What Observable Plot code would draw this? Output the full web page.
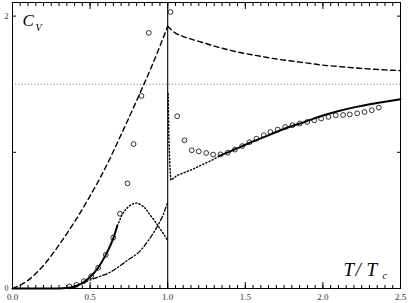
<!DOCTYPE html>
<html><head><meta charset="utf-8">
<script src="https://cdn.jsdelivr.net/npm/d3@7"></script>
<script src="https://cdn.jsdelivr.net/npm/@observablehq/plot@0.6"></script>
<style>body{margin:0;background:#fff} svg{display:block}</style>
</head><body><div id="chart"></div>
<script>
// ideal Bose gas (dashed)
const dashBelowT = [0, 0.1, 0.2, 0.3, 0.4, 0.5, 0.6, 0.7, 0.8, 0.9, 1.0];
const dashBelowC = [0, 0.06, 0.17, 0.32, 0.49, 0.68, 0.89, 1.13, 1.38, 1.64, 1.925];
const dashAboveT = [1.0, 1.05, 1.1, 1.2, 1.3, 1.4, 1.5, 1.6, 1.7, 1.8, 1.9, 2.0, 2.1, 2.2, 2.3, 2.4, 2.5];
const dashAboveC = [1.925, 1.875, 1.85, 1.815, 1.78, 1.75, 1.725, 1.705, 1.685, 1.67, 1.655, 1.64, 1.63, 1.62, 1.612, 1.605, 1.6];
// solid curves
const solidLowT = [0, 0.3, 0.35, 0.4, 0.45, 0.5, 0.55, 0.6, 0.65, 0.675];
const solidLowC = [0, 0, 0.003, 0.015, 0.04, 0.085, 0.15, 0.245, 0.37, 0.46];
const solidHighT = [1.33, 1.4, 1.47, 1.55, 1.66, 1.77, 1.88, 2.0, 2.09, 2.2, 2.31, 2.4, 2.5];
const solidHighC = [0.972, 1.005, 1.04, 1.08, 1.13, 1.18, 1.222, 1.27, 1.3, 1.33, 1.355, 1.372, 1.39];
// dotted curves
const dotLowT = [0.675, 0.69, 0.71, 0.73, 0.76, 0.8, 0.85, 0.88, 0.92, 0.95, 0.98, 1.0];
const dotLowC = [0.46, 0.5, 0.55, 0.58, 0.612, 0.627, 0.595, 0.55, 0.49, 0.44, 0.39, 0.35];
const dotHighT = [1.003, 1.008, 1.014, 1.02, 1.06, 1.15, 1.28, 1.34];
const dotHighC = [1.43, 1.1, 0.9, 0.795, 0.83, 0.87, 0.94, 0.975];
// dash-dot curve
const dashDotT = [0.4, 0.44, 0.52, 0.63, 0.74, 0.825, 0.88, 0.93, 0.97, 1.0];
const dashDotC = [0.01, 0.035, 0.071, 0.12, 0.206, 0.279, 0.36, 0.45, 0.54, 0.635];
// measured points (circles)
const circT = [0.367, 0.412, 0.46, 0.507, 0.552, 0.601, 0.649, 0.692, 0.741, 0.78, 0.831, 0.878, 1.018, 1.061, 1.108, 1.155, 1.2, 1.248, 1.293, 1.34, 1.387, 1.433, 1.48, 1.527, 1.572, 1.619, 1.662, 1.709, 1.757, 1.804, 1.851, 1.899, 1.944, 1.989, 2.036, 2.083, 2.13, 2.173, 2.221, 2.268, 2.315, 2.36];
const circC = [0.015, 0.027, 0.054, 0.09, 0.152, 0.247, 0.373, 0.549, 0.772, 1.06, 1.414, 1.877, 2.03, 1.265, 1.088, 1.015, 1.007, 0.995, 0.983, 0.985, 0.997, 1.02, 1.046, 1.074, 1.1, 1.125, 1.149, 1.167, 1.186, 1.199, 1.211, 1.223, 1.235, 1.248, 1.26, 1.272, 1.274, 1.278, 1.286, 1.296, 1.309, 1.328];
// reference levels and ticks
const classicalLimit = [1.5];
const criticalT = [1.0];
const xMajorTicks = [0, 0.5, 1.0, 1.5, 2.0, 2.5];
const xMinorTicks = d3.range(0, 51).map(i => i * 0.05);
const yTicks = [0, 1, 2];
const yTickLabels = [0, 2];

const zip = (xs, ys) => xs.map((x, i) => ({x, y: ys[i]}));
const lineOpts = {x: "x", y: "y", stroke: "black"};
const label = (t, anchor, dx, dy, size) => Plot.text([t], {frameAnchor: anchor, text: d => d, dx, dy, lineAnchor: "bottom", textAnchor: "start", fontSize: size, fontStyle: "italic"});

const chart = Plot.plot({
  width: 409, height: 303,
  marginLeft: 12, marginRight: 9, marginTop: 2, marginBottom: 15,
  x: {domain: [0, 2.5], axis: null},
  y: {domain: [0, 2.1], axis: null},
  style: {fontFamily: "'Liberation Serif', 'DejaVu Serif', serif", background: "white", color: "black"},
  marks: [
    Plot.ruleY(classicalLimit, {stroke: "#444", strokeWidth: 0.8, strokeDasharray: "1,2.2"}),
    Plot.ruleX(criticalT, {stroke: "black", strokeWidth: 1.1}),
    Plot.line(zip(dashBelowT, dashBelowC), {...lineOpts, strokeWidth: 1.4, strokeDasharray: "5,3.5", curve: "monotone-x"}),
    Plot.line(zip(dashAboveT, dashAboveC), {...lineOpts, strokeWidth: 1.4, strokeDasharray: "5,3.5", curve: "monotone-x"}),
    Plot.line(zip(dotLowT, dotLowC), {...lineOpts, strokeWidth: 1.4, strokeDasharray: "1.2,2.2", curve: "catmull-rom"}),
    Plot.line(zip(dotHighT, dotHighC), {...lineOpts, strokeWidth: 1.4, strokeDasharray: "1.2,2.2"}),
    Plot.line(zip(dashDotT, dashDotC), {...lineOpts, strokeWidth: 1.3, strokeDasharray: "4.5,2.2,1.3,2.2", curve: "monotone-x"}),
    Plot.line(zip(solidLowT, solidLowC), {...lineOpts, strokeWidth: 2, curve: "monotone-x"}),
    Plot.line(zip(solidHighT, solidHighC), {...lineOpts, strokeWidth: 2, curve: "monotone-x"}),
    Plot.dot(zip(circT, circC), {x: "x", y: "y", r: 2.4, stroke: "black", strokeWidth: 0.8, fill: "none"}),
    Plot.frame({stroke: "black", strokeWidth: 1}),
    Plot.axisX(xMinorTicks, {anchor: "bottom", tickSize: -3, tickFormat: () => "", label: null}),
    Plot.axisX(xMinorTicks, {anchor: "top", tickSize: -3, tickFormat: () => "", label: null}),
    Plot.axisX(xMajorTicks, {anchor: "bottom", tickSize: -6, tickFormat: () => "", label: null}),
    Plot.axisX(xMajorTicks, {anchor: "top", tickSize: -6, tickFormat: () => "", label: null}),
    Plot.axisX(xMajorTicks, {anchor: "bottom", tickSize: 0, tickPadding: 5, tickFormat: d3.format(".1f"), fontSize: 9, fill: "#333", label: null}),
    Plot.axisY(yTicks, {anchor: "left", tickSize: -4, tickFormat: () => "", label: null}),
    Plot.axisY(yTicks, {anchor: "right", tickSize: -4, tickFormat: () => "", label: null}),
    Plot.axisY(yTickLabels, {anchor: "left", tickSize: 0, tickPadding: 4, tickFormat: d3.format("d"), fontSize: 8, fill: "#333", label: null}),
    label("C", "top-left", 10, 23, 17),
    label("V", "top-left", 23, 28, 10),
    label("T", "bottom-right", -57, -13, 19),
    label("/", "bottom-right", -45, -13, 19),
    label("T", "bottom-right", -34, -13, 19),
    label("c", "bottom-right", -18, -10, 10)
  ]
});
document.getElementById("chart").appendChild(chart);
</script>
</body></html>
